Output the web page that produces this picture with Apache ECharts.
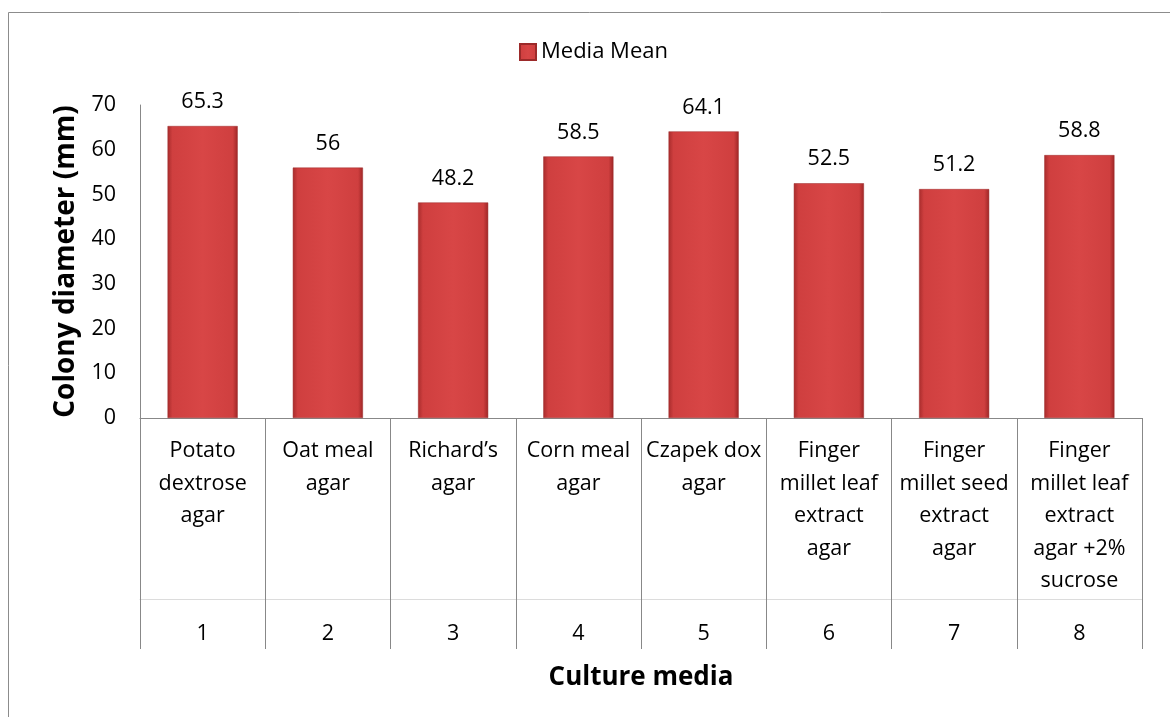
<!DOCTYPE html>
<html>
<head>
<meta charset="utf-8">
<script src="https://cdn.jsdelivr.net/npm/echarts@6/dist/echarts.min.js"></script>
<style>
html,body{margin:0;padding:0;background:#fff;}
#chart{width:1170px;height:717px;}
</style>
</head>
<body>
<div id="chart"></div>
<script>
var categories = [
  "Potato\ndextrose\nagar",
  "Oat meal\nagar",
  "Richard\u2019s\nagar",
  "Corn meal\nagar",
  "Czapek dox\nagar",
  "Finger\nmillet leaf\nextract\nagar",
  "Finger\nmillet seed\nextract\nagar",
  "Finger\nmillet leaf\nextract\nagar +2%\nsucrose"
];
var numbers = ["1", "2", "3", "4", "5", "6", "7", "8"];
var seriesName = "Media Mean";
var values = [65.3, 56, 48.2, 58.5, 64.1, 52.5, 51.2, 58.8];
var yTicks = { min: 0, max: 70, interval: 10 };

var FONT = "Open Sans";
var barGrad = new echarts.graphic.LinearGradient(0, 0, 1, 0, [
  { offset: 0, color: '#a82c2c' },
  { offset: 0.07, color: '#cf3f3f' },
  { offset: 0.5, color: '#d84646' },
  { offset: 0.93, color: '#cf3f3f' },
  { offset: 1, color: '#9e2626' }
]);

var chart = echarts.init(document.getElementById('chart'));
chart.setOption({
  backgroundColor: '#fff',
  animation: false,
  textStyle: { fontFamily: FONT },
  graphic: [{
    type: 'rect',
    shape: { x: 8.5, y: 12.5, width: 1300, height: 900 },
    style: { fill: 'none', stroke: '#8c8c8c', lineWidth: 1 },
    silent: true, z: -10
  }],
  legend: {
    data: [seriesName],
    left: 514, top: 36,
    itemWidth: 16, itemHeight: 16, itemGap: 4,
    icon: 'rect',
    textStyle: { fontFamily: FONT, fontSize: 22, color: '#000' }
  },
  grid: { left: 140, top: 105, right: 28, bottom: 299, containLabel: false },
  xAxis: [{
    type: 'category',
    data: categories,
    position: 'bottom',
    axisLine: { lineStyle: { color: '#888', width: 1 } },
    axisTick: { show: true, length: 231, lineStyle: { color: '#888', width: 1 } },
    axisLabel: {
      interval: 0, margin: 17, color: '#000',
      fontFamily: FONT, fontSize: 21.5, lineHeight: 32.5, align: 'center'
    }
  }, {
    type: 'category',
    data: numbers,
    position: 'bottom',
    offset: 181,
    axisLine: { show: true, lineStyle: { color: '#dcdcdc', width: 1 } },
    axisTick: { show: false },
    axisLabel: { interval: 0, margin: 24, color: '#000', fontFamily: FONT, fontSize: 21.5 },
    name: 'Culture media',
    nameLocation: 'middle',
    nameGap: 66,
    nameTextStyle: { fontFamily: FONT, fontSize: 26, fontWeight: 'bold', color: '#000' }
  }],
  yAxis: {
    type: 'value',
    min: yTicks.min, max: yTicks.max, interval: yTicks.interval,
    axisLine: { show: true, lineStyle: { color: '#888', width: 1 } },
    axisTick: { show: false },
    splitLine: { show: false },
    axisLabel: { margin: 24, color: '#000', fontFamily: FONT, fontSize: 21.5 },
    name: 'Colony diameter (mm)',
    nameLocation: 'middle',
    nameGap: 56,
    nameTextStyle: { fontFamily: FONT, fontSize: 28, fontWeight: 'bold', color: '#000' }
  },
  series: [{
    name: seriesName,
    type: 'bar',
    data: values,
    barWidth: '56%',
    itemStyle: { color: barGrad, borderColor: '#9c2a2a', borderWidth: 0.5 },
    label: {
      show: true, position: 'top', distance: 13,
      color: '#000', fontFamily: FONT, fontSize: 21.5
    }
  }]
});
</script>
</body>
</html>
